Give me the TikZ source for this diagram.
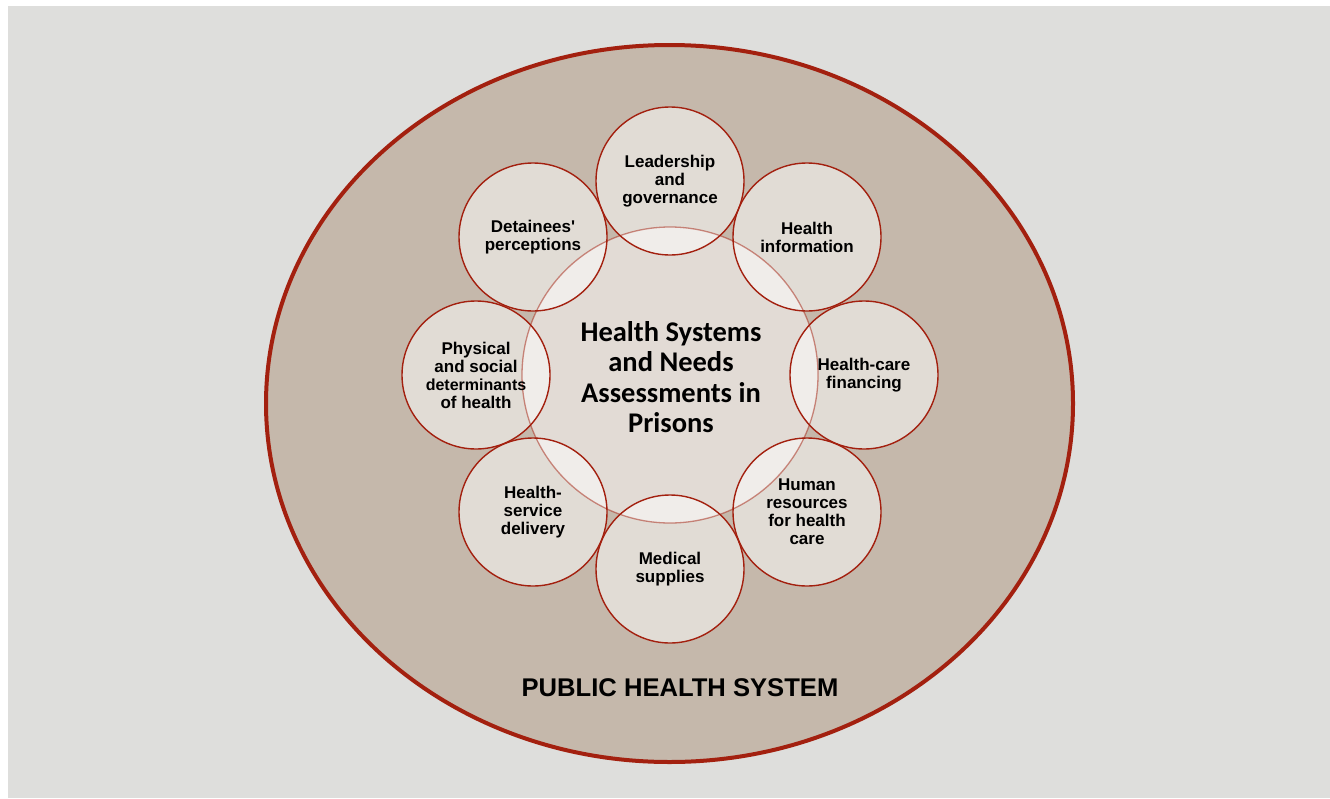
\documentclass[tikz,border=0pt]{standalone}
\usepackage{fontspec}
\setmainfont{Liberation Sans}
\newfontfamily\plainsans{Liberation Sans}
\newfontfamily\titlefont{Carlito}
\definecolor{pagegray}{HTML}{DEDEDC}
\definecolor{tanfill}{HTML}{C5B8AB}
\definecolor{discfill}{HTML}{E1DCD5}
\definecolor{deepred}{HTML}{A3200F}
\begin{document}
\begin{tikzpicture}[x=1pt,y=-1pt,
  spoke/.style={circle, draw=deepred, line width=1.4pt, minimum size=148pt,
    inner sep=0pt, align=center, text=black,
    font=\plainsans\bfseries\fontsize{17}{18}\selectfont},
  hubtext/.style={align=center, text=black,
    font=\titlefont\bfseries\fontsize{28.5}{30.5}\selectfont},
  systemlabel/.style={text=black, font=\bfseries\fontsize{25.6}{28}\selectfont}]
\useasboundingbox (0,0) rectangle (1330,798);
% page background
\fill[pagegray] (8,6) rectangle (1330,798);
% outer public health system ellipse
\coordinate (sys) at (669.5,403.5);
\draw[fill=tanfill, draw=deepred, line width=4pt]
  (sys) ellipse [x radius=403.5pt, y radius=358.5pt];
% ring of component circles
\coordinate (hub) at (670,375);
\coordinate (lead) at (670,181);
\coordinate (info) at (807,237);
\coordinate (fin)  at (864,375);
\coordinate (hr)   at (807,512);
\coordinate (med)  at (670,569);
\coordinate (del)  at (533,512);
\coordinate (phys) at (476,375);
\coordinate (det)  at (533,237);
% disc fills: overlaps between neighbouring discs stay open
\fill[discfill, even odd rule]
  (lead) circle [radius=74pt] (info) circle [radius=74pt]
  (fin) circle [radius=74pt] (hr) circle [radius=74pt]
  (med) circle [radius=74pt] (del) circle [radius=74pt]
  (phys) circle [radius=74pt] (det) circle [radius=74pt];
% translucent central circle
\fill[white, fill opacity=0.5] (hub) circle [radius=148pt];
\draw[deepred, draw opacity=0.5, line width=1.3pt] (hub) circle [radius=148pt];
% component labels and outlines
\node[spoke] (nlead) at (lead) {Leadership\\and\\governance};
\node[spoke] (ninfo) at (info) {Health\\information};
\node[spoke] (nfin)  at (fin)  {Health-care\\financing};
\node[spoke] (nhr)   at (hr)   {Human\\resources\\for health\\care};
\node[spoke] (nmed)  at (med)  {Medical\\supplies};
\node[spoke] (ndel)  at (del)  {Health-\\service\\delivery};
\node[spoke] (nphys) at (phys) {Physical\\and social\\{\fontsize{16}{18}\selectfont determinants}\\of health};
\node[spoke] (ndet)  at (det)  {Detainees'\\perceptions};
% central title
\node[hubtext] (title) at (671,377) {Health Systems\\and Needs\\Assessments in\\Prisons};
% outer label
\node[systemlabel] (public) at (680,688) {PUBLIC HEALTH SYSTEM};
\end{tikzpicture}
\end{document}
